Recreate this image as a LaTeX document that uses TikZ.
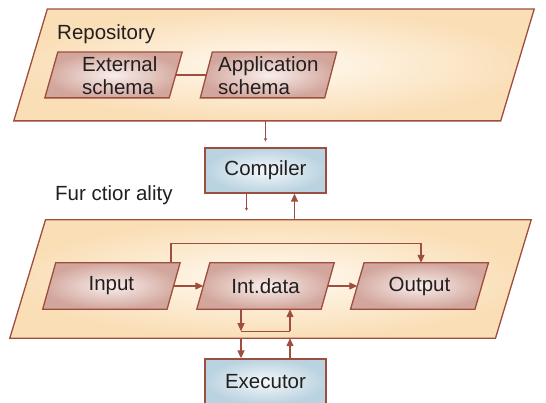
\documentclass[tikz,border=0pt]{standalone}
\usepackage{fontspec}
\setmainfont{Liberation Sans}
\usetikzlibrary{arrows.meta,calc}
\definecolor{brd}{RGB}{158,78,62}
\definecolor{peach}{RGB}{250,222,182}
\definecolor{peachin}{RGB}{255,250,242}
\definecolor{rose}{RGB}{210,166,156}
\definecolor{rosein}{RGB}{249,238,235}
\definecolor{sky}{RGB}{186,211,224}
\definecolor{skyin}{RGB}{244,248,251}
\definecolor{ink}{RGB}{35,31,32}
\pgfdeclarelayer{bg}
\pgfsetlayers{bg,main}
% draws a right-leaning parallelogram round node #2 (slant #3), mid-sides on east/west
\newcommand{\parashape}[3]{%
  \path[#1] ($(#2.south west)+(-#3/2,0)$) -- ($(#2.south east)+(-#3/2,0)$)
    -- ($(#2.north east)+(#3/2,0)$) -- ($(#2.north west)+(#3/2,0)$) -- cycle;}
\begin{document}
\begin{tikzpicture}[x=1pt,y=-1pt,
  font=\fontsize{20.5}{22.7}\selectfont, text=ink,
  box/.style={rectangle, inner sep=0pt},
  bigfill/.style={draw=brd, line width=1.3pt, inner color=peachin, outer color=peach},
  smallfill/.style={draw=brd, line width=1.3pt, inner color=rosein, outer color=rose},
  small/.style={box, minimum width=124pt, minimum height=46pt},
  bluebox/.style={rectangle, draw=brd, line width=1.3pt,
    inner color=skyin, outer color=sky, inner sep=0pt,
    minimum width=121pt, minimum height=45pt},
  lbl/.style={inner sep=0pt},
  arr/.style={draw=brd, line width=1.3pt, -{Triangle[length=8pt,width=7pt]}},
  stub/.style={draw=brd, line width=1.3pt, -{Triangle[length=3pt,width=3pt]}},
  ln/.style={draw=brd, line width=1.3pt}]
\useasboundingbox (0,0) rectangle (546,403);

% containers
\node[box, minimum width=486.5pt, minimum height=111.4pt] (repo) at (274,65) {};
\node[box, minimum width=485.3pt, minimum height=118pt] (func) at (270.5,279) {};

% repository contents
\node[small, minimum height=45.4pt] (ext) at (113.5,75) {};
\node[small, minimum height=45.4pt] (app) at (268.5,75) {};
\node[lbl, anchor=base west] (repolbl) at (57,40) {Repository};
\node[lbl, anchor=north west, align=left] (extlbl) at (82,56.8) {External\\schema};
\node[lbl, anchor=north west, align=left] (applbl) at (218,56.8) {Application\\schema};

% compiler / executor
\node[bluebox] (comp) at (265.5,170.5) {Compiler};
\node[bluebox] (exec) at (265.5,381.5) {Executor};
\node[lbl, anchor=base west] (funclbl) at (55,200.7) {Fur ctior ality};

% functionality contents
\node[small] (inp) at (111.4,286) {Input};
\node[small] (int) at (265.5,286) {Int.data};
\node[small] (out) at (419.5,286) {Output};

\begin{pgfonlayer}{bg}
  \parashape{bigfill}{repo}{33.5}
  \parashape{smallfill}{ext}{13}
  \parashape{smallfill}{app}{12}
  \parashape{bigfill}{func}{35.7}
  \parashape{smallfill}{inp}{13}
  \parashape{smallfill}{int}{13}
  \parashape{smallfill}{out}{13.5}
\end{pgfonlayer}

\draw[ln] (ext.east) -- (app.west);

\draw[arr] (inp.east) -- (int.west);
\draw[arr] (int.east) -- (out.west);

\coordinate (t1) at ($(inp.north)+(59.6,0)$);
\coordinate (t2) at ($(out.north)+(1.5,0)$);
\draw[arr] (t1) -- ++(0,-19) -| (t2);

\coordinate (l1) at ($(int.south)+(-24.5,22)$);
\coordinate (l2) at ($(int.south)+(24.5,22)$);
\draw[arr] (l1 |- int.south) -- (l1);
\draw[ln] (l1) -- (l2);
\draw[arr] (l2) -- (l2 |- int.south);

% repository -> compiler
\draw[stub, shorten >=6pt] (comp.north |- repo.south) -- (comp.north);

% compiler <-> functionality
\coordinate (c1) at ($(comp.south)+(-19,0)$);
\coordinate (c2) at ($(comp.south)+(29,0)$);
\draw[stub, shorten >=9pt] (c1) -- (c1 |- func.north);
\draw[arr] (c2 |- func.north) -- (c2);

% functionality <-> executor
\coordinate (e1) at ($(exec.north)+(-24.5,0)$);
\coordinate (e2) at ($(exec.north)+(24.5,0)$);
\draw[arr] (e1 |- func.south) -- (e1);
\draw[arr] (e2) -- (e2 |- func.south);
\end{tikzpicture}
\end{document}
